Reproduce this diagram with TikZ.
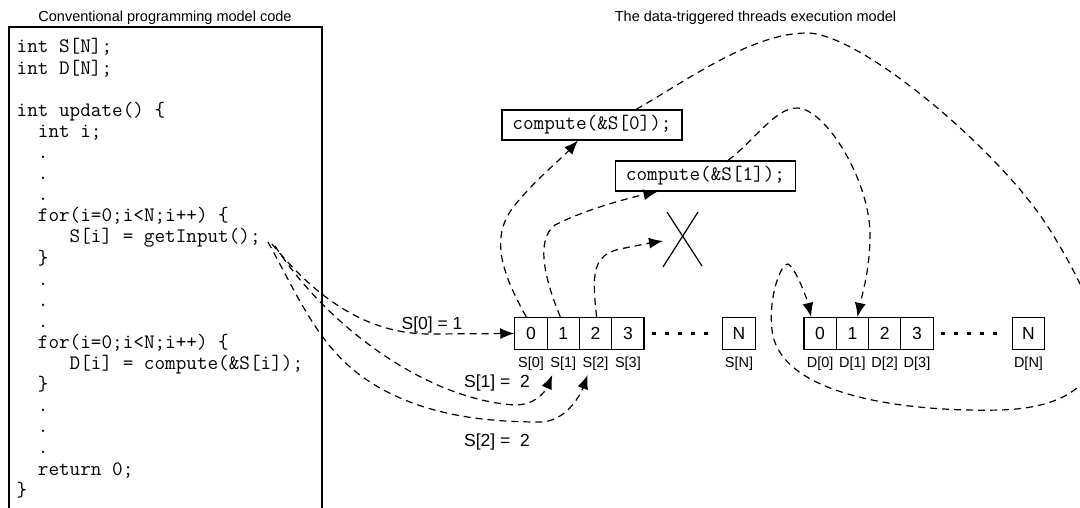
\documentclass[tikz,border=0pt]{standalone}
\usepackage{fontspec}
\setmainfont{Liberation Sans}
\usetikzlibrary{arrows.meta,calc}
\newcommand\indA{\phantom{xx}}
\newcommand\indB{\phantom{xxxxx}}
\newcommand\codefont{\ttfamily\fontsize{20.6}{21}\selectfont}
\begin{document}
\begin{tikzpicture}[x=1pt,y=-1pt,
  codeline/.style={anchor=base west,inner sep=0pt,font=\codefont},
  title/.style={inner sep=0pt,font=\fontsize{14.5}{15}\selectfont},
  cell/.style={draw,line width=1.2pt,minimum width=32.3pt,minimum height=32pt,inner sep=0pt,font=\fontsize{17.5}{17.5}\selectfont},
  lab/.style={inner sep=0pt,font=\fontsize{14.5}{15}\selectfont},
  biglab/.style={inner sep=0pt,font=\fontsize{17.5}{18}\selectfont},
  cbox/.style={draw,line width=1.2pt,minimum width=180pt,minimum height=30pt,inner sep=0pt,font=\codefont},
  dcurve/.style={line width=1.2pt,dash pattern=on 7pt off 5pt},
  arr/.style={-{Latex[length=14pt,width=11pt]}},
  dotline/.style={line width=2.7pt,dash pattern=on 4.5pt off 8.5pt},
  frame/.style={line width=1.3pt},
  cross/.style={line width=1.2pt}
]
\useasboundingbox (0,0) rectangle (1080,508);
\clip (0,0) rectangle (1080,508);

% titles
\node[title] (t1) at (165,18) {Conventional programming model code};
\node[title] (t2) at (755.5,18) {The data-triggered threads execution model};

% code frame
\draw[frame] (9,512) -- (9,27) -- (322,27) -- (322,512);

% code lines
\node[codeline] (l1) at (16.5,53) {int S[N];};
\node[codeline] (l2) at (16.5,74.1) {int D[N];};
\node[codeline] (l4) at (16.5,116.3) {int update() \{};
\node[codeline] (l5) at (16.5,137.4) {\indA int i;};
\node[codeline] (l6) at (16.5,158.5) {\indA .};
\node[codeline] (l7) at (16.5,179.6) {\indA .};
\node[codeline] (l8) at (16.5,200.7) {\indA .};
\node[codeline] (l9) at (16.5,221.8) {\indA for(i=0;i<N;i++) \{};
\node[codeline] (l10) at (16.5,242.9) {\indB S[i] = getInput();};
\node[codeline] (l11) at (16.5,264) {\indA \}};
\node[codeline] (l12) at (16.5,285.1) {\indA .};
\node[codeline] (l13) at (16.5,306.2) {\indA .};
\node[codeline] (l14) at (16.5,327.3) {\indA .};
\node[codeline] (l15) at (16.5,348.4) {\indA for(i=0;i<N;i++) \{};
\node[codeline] (l16) at (16.5,369.5) {\indB D[i] = compute(\&S[i]);};
\node[codeline] (l17) at (16.5,390.6) {\indA \}};
\node[codeline] (l18) at (16.5,411.7) {\indA .};
\node[codeline] (l19) at (16.5,432.8) {\indA .};
\node[codeline] (l20) at (16.5,453.9) {\indA .};
\node[codeline] (l21) at (16.5,475) {\indA return 0;};
\node[codeline] (l22) at (16.5,496.1) {\}};

\coordinate (gA) at ($(l10.base east)+(11,1)$);
\coordinate (gB) at ($(l10.base east)+(14,3)$);
\coordinate (gC) at ($(l10.base east)+(7,-1)$);

% S array
\node[cell] (s0) at (531,333.5) {0};
\node[cell] (s1) at (563.3,333.5) {1};
\node[cell] (s2) at (595.6,333.5) {2};
\node[cell] (s3) at (627.9,333.5) {3};
\node[cell] (sN) at (739,333.5) {N};
\node[lab] (ls0) at (531,364) {S[0]};
\node[lab] (ls1) at (563.3,364) {S[1]};
\node[lab] (ls2) at (595.6,364) {S[2]};
\node[lab] (ls3) at (627.9,364) {S[3]};
\node[lab] (lsN) at (739,364) {S[N]};
\draw[dotline] ([xshift=7pt]s3.east) -- ([xshift=-7pt]sN.west);

% D array
\node[cell] (d0) at (820.1,333.5) {0};
\node[cell] (d1) at (852.4,333.5) {1};
\node[cell] (d2) at (884.7,333.5) {2};
\node[cell] (d3) at (917,333.5) {3};
\node[cell] (dN) at (1028.5,333.5) {N};
\node[lab] (ld0) at (820.1,364) {D[0]};
\node[lab] (ld1) at (852.4,364) {D[1]};
\node[lab] (ld2) at (884.7,364) {D[2]};
\node[lab] (ld3) at (917,364) {D[3]};
\node[lab] (ldN) at (1028.5,364) {D[N]};
\draw[dotline] ([xshift=7pt]d3.east) -- ([xshift=-7pt]dN.west);

% compute boxes
\node[cbox] (c0) at (592,125) {compute(\&S[0]);};
\node[cbox] (c1) at (705.5,176) {compute(\&S[1]);};

% X mark
\coordinate (xm) at (683,240);
\draw[cross] ($(xm)+(-20,27)$) -- ($(xm)+(15,-28)$);
\draw[cross] ($(xm)+(-16,-28)$) -- ($(xm)+(19,26)$);

% labels of writes
\node[biglab] (w0) at (432,325) {S[0] = 1};
\node[biglab] (w1) at (497,383) {S[1] =\ \ 2};
\node[biglab] (w2) at (497,442) {S[2] =\ \ 2};

% writes from getInput
\draw[dcurve,arr] (gA) .. controls (310,290) and (360,334) .. (430,334) -- (s0.west);
\draw[dcurve,arr] (gB) .. controls (330,330) and (430,400) .. (515,405)
  .. controls (535,405) and (545,392) .. ($(ls1.south)+(-11,4)$);
\draw[dcurve,arr] (gC) .. controls (300,300) and (320,350) .. (370,382)
  .. controls (420,414) and (480,422) .. (540,422)
  .. controls (565,422) and (580,396) .. ($(ls2.south)+(-8,4)$);

% triggers from S cells
\draw[dcurve,arr] ([xshift=12pt]s0.north west) .. controls (500,270) and (490,235) .. (515,205)
  .. controls (535,180) and (560,160) .. ([xshift=-14pt]c0.south);
\draw[dcurve,arr] ([xshift=-3pt]s1.north) .. controls (545,280) and (535,240) .. (555,225)
  .. controls (580,212) and (620,200) .. ([xshift=-48pt]c1.south);
\draw[dcurve,arr] ([xshift=1pt]s2.north) .. controls (592,275) and (592,255) .. (620,249)
  .. controls (635,246) and (650,243) .. ($(xm)+(-20,1)$);

% results to D cells
\draw[dcurve,arr] ([xshift=22.5pt]c1.north) .. controls (755,140) and (775,108) .. (797,108)
  .. controls (825,108) and (870,180) .. (870,235)
  .. controls (870,270) and (862,295) .. ([xshift=5pt]d1.north);
\draw[dcurve,arr] ([xshift=44pt]c0.north) .. controls (680,85) and (750,33) .. (807,33)
  .. controls (860,33) and (1000,150) .. (1050,230)
  .. controls (1075,270) and (1100,320) .. (1098,340)
  .. controls (1098,380) and (1070,408) .. (1000,410)
  .. controls (920,412) and (780,400) .. (772,330)
  .. controls (768,295) and (782,262) .. (788,264)
  .. controls (794,266) and (806,295) .. ([xshift=-9pt]d0.north);
\end{tikzpicture}
\end{document}
